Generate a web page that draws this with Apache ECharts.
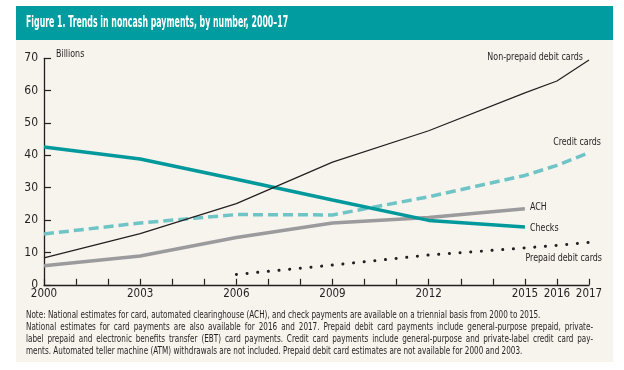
<!DOCTYPE html>
<html><head><meta charset="utf-8">
<script src="https://cdn.jsdelivr.net/npm/echarts@6/dist/echarts.min.js"></script>
<style>html,body{margin:0;padding:0;background:#fff;}#c{width:624px;height:370px;}</style>
</head><body><div id="c"></div>
<script>
var yearsMain = [2000, 2003, 2006, 2009, 2012, 2015];
var yearsCard = [2000, 2003, 2006, 2009, 2012, 2015, 2016, 2017];
var yearsPrepaid = [2006, 2009, 2012, 2015, 2016, 2017];
var debit = [8.3, 15.8, 25.1, 37.9, 47.6, 59.3, 63.0, 69.5];
var credit = [15.7, 19.1, 21.7, 21.6, 27.2, 33.8, 36.9, 40.8];
var ach = [5.9, 8.9, 14.6, 19.1, 20.8, 23.5];
var checks = [42.6, 38.9, 32.6, 26.2, 19.9, 17.9];
var prepaid = [3.2, 6.1, 9.2, 11.4, 12.2, 13.1];
var xLabelYears = [2000, 2003, 2006, 2009, 2012, 2015, 2016, 2017];
var yTicks = [0, 10, 20, 30, 40, 50, 60, 70];

function pairs(xs, ys) { return xs.map(function (x, i) { return [x, ys[i]]; }); }

var FONT = "'Liberation Sans Narrow','DejaVu Sans Condensed','Arial Narrow',sans-serif";
var TXT = '#231f20';
var chart = echarts.init(document.getElementById('c'), null, { renderer: 'canvas' });

var noteLines = [
  'Note: National estimates for card, automated clearinghouse (ACH), and check payments are available on a triennial basis from 2000 to 2015.',
  'National estimates for card payments are also available for 2016 and 2017. Prepaid debit card payments include general-purpose prepaid, private-',
  'label prepaid and electronic benefits transfer (EBT) card payments. Credit card payments include general-purpose and private-label credit card pay-',
  'ments. Automated teller machine (ATM) withdrawals are not included. Prepaid debit card estimates are not available for 2000 and 2003.'
];
var noteJustify = [false, true, true, false];

function label(text, x, y, align) {
  return { type: 'text', x: x, y: y, scaleX: 0.84, scaleY: 1,
    style: { text: text, fill: TXT, font: "10.5px " + FONT, textAlign: align || 'left', textVerticalAlign: 'middle' } };
}

// Build the justified note as word-by-word text elements
var NOTE_FONT = "9.6px " + FONT;
var NOTE_SCALE = 0.84;
var noteLeft = 26, noteRight = 593, noteTop = 315, noteLH = 12.3;
var mctx = document.createElement('canvas').getContext('2d');
mctx.font = NOTE_FONT;
var noteEls = [];
noteLines.forEach(function (line, li) {
  var words = line.split(' ');
  var widths = words.map(function (w) { return mctx.measureText(w).width * NOTE_SCALE; });
  var total = widths.reduce(function (a, b) { return a + b; }, 0);
  var gap = noteJustify[li] ? (noteRight - noteLeft - total) / (words.length - 1) : mctx.measureText(' ').width * NOTE_SCALE;
  var x = noteLeft;
  words.forEach(function (w, wi) {
    noteEls.push({ type: 'text', x: x, y: noteTop + li * noteLH, scaleX: NOTE_SCALE, scaleY: 1, silent: true,
      style: { text: w, fill: TXT, font: NOTE_FONT, textVerticalAlign: 'middle' } });
    x += widths[wi] + gap;
  });
});

chart.setOption({
  animation: false,
  backgroundColor: '#ffffff',
  grid: { left: 44, right: 35, top: 58.3, bottom: 85.2, containLabel: false },
  xAxis: {
    type: 'value', min: 2000, max: 2017, interval: 1,
    axisLine: { lineStyle: { color: TXT, width: 1.3 } },
    axisTick: { inside: true, length: 6, lineStyle: { color: TXT, width: 1.2 } },
    splitLine: { show: false },
    axisLabel: {
      margin: 3, fontFamily: FONT, fontSize: 11.5, color: TXT,
      formatter: function (v) { return xLabelYears.indexOf(v) >= 0 ? String(v) : ''; }
    }
  },
  yAxis: {
    type: 'value', min: 0, max: 70, interval: 10,
    axisLine: { show: true, lineStyle: { color: TXT, width: 1.3 } },
    axisTick: { show: true, inside: true, length: 7, lineStyle: { color: TXT, width: 1.2 } },
    splitLine: { show: false },
    axisLabel: {
      margin: 6, fontFamily: FONT, fontSize: 12, color: TXT,
      formatter: function (v) { return yTicks.indexOf(v) >= 0 ? String(v) : ''; }
    }
  },
  graphic: [
    { type: 'rect', z: -10, silent: true, shape: { x: 16, y: 40, width: 597, height: 322 }, style: { fill: '#f7f3ed' } },
    { type: 'rect', z: -10, silent: true, shape: { x: 16, y: 6, width: 597, height: 34 }, style: { fill: '#009c9f' } },
    { type: 'text', x: 26, y: 23, scaleX: 0.58, scaleY: 1, style: { text: 'Figure 1. Trends in noncash payments, by number, 2000\u201317', fill: '#ffffff', font: "bold 15px " + FONT, textVerticalAlign: 'middle' } },
    label('Billions', 56, 54),
    label('Non-prepaid debit cards', 583, 57, 'right'),
    label('Credit cards', 601, 142.5, 'right'),
    label('ACH', 530, 207),
    label('Checks', 530, 228),
    label('Prepaid debit cards', 602, 258.5, 'right')
  ].concat(noteEls),
  series: [
    { name: 'ACH', type: 'line', data: pairs(yearsMain, ach), symbol: 'none', z: 2,
      lineStyle: { color: '#9b9b9d', width: 3.5 } },
    { name: 'Credit cards', type: 'line', data: pairs(yearsCard, credit), symbol: 'none', z: 3,
      lineStyle: { color: '#6fc4c6', width: 3.5, type: [10, 5] } },
    { name: 'Checks', type: 'line', data: pairs(yearsMain, checks), symbol: 'none', z: 4,
      lineStyle: { color: '#02999d', width: 3.5 } },
    { name: 'Non-prepaid debit cards', type: 'line', data: pairs(yearsCard, debit), symbol: 'none', z: 5,
      lineStyle: { color: TXT, width: 1.2 } },
    { name: 'Prepaid debit cards', type: 'line', data: pairs(yearsPrepaid, prepaid), symbol: 'none', z: 5,
      lineStyle: { color: TXT, width: 3, type: [0.1, 10.6], cap: 'round' } }
  ]
});
</script></body></html>
